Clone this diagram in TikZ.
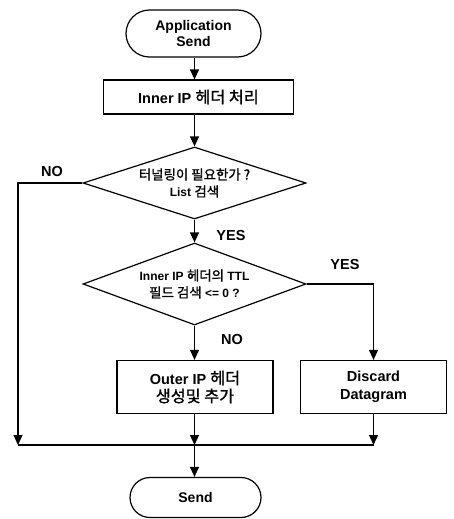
\documentclass[tikz,border=0pt]{standalone}
\usepackage{fontspec}
\setmainfont{Liberation Sans}
\newfontfamily\kr{Noto Sans CJK KR}[Scale=1.12,AutoFakeBold=1.2]
\usetikzlibrary{shapes.geometric,shapes.misc,arrows.meta}
\begin{document}
\begin{tikzpicture}[x=1pt,y=-1pt,
  line width=1.2pt,
  arr/.style={-{Triangle[width=9pt,length=10pt]}},
  term/.style={draw,rounded rectangle,font=\fontsize{14}{16}\selectfont\bfseries,align=center,inner sep=0pt},
  proc/.style={draw,rectangle,font=\fontsize{14.5}{18}\selectfont\bfseries,align=center,inner sep=0pt},
  dec/.style={draw,diamond,inner sep=0pt},
  dectext/.style={font=\fontsize{12}{17}\selectfont\bfseries,align=center,inner sep=0pt},
  lbl/.style={font=\fontsize{14.5}{16}\selectfont\bfseries,inner sep=0pt}]
\useasboundingbox (0,0) rectangle (454,519);
\node[term,minimum width=135pt,minimum height=47pt] (app) at (193.5,33.5) {Application\\Send};
\node[proc,minimum width=190pt,minimum height=34pt] (inner) at (198.5,97) {Inner IP {\kr 헤더 처리}};
\node[dec,minimum width=223pt,minimum height=72pt] (d1) at (194.5,183) {};
\node[dectext] (d1t) at (194.5,183) {{\kr 터널링이 필요한가 ?}\\List {\kr 검색}};
\node[dec,minimum width=223pt,minimum height=82pt] (d2) at (194.5,284) {};
\node[dectext] (d2t) at (194.5,284) {Inner IP {\kr 헤더의} TTL\\{\kr 필드 검색} <= 0 ?};
\node[proc,minimum width=156pt,minimum height=53pt] (outer) at (195,387) {Outer IP {\kr 헤더}\\{\kr 생성및 추가}};
\node[proc,minimum width=146pt,minimum height=53pt] (disc) at (373.5,387) {Discard\\Datagram};
\node[term,minimum width=131pt,minimum height=40pt] (send) at (195.5,497.5) {Send};
\coordinate (cl) at (18,183);
\coordinate (bl) at (18,445);
\coordinate (bm) at (194.5,445);
\coordinate (br) at (373.5,445);
\coordinate (cr) at (373.5,284);
\draw[arr] (app.south -| d1.north) -- (inner.north -| d1.north);
\draw[arr] (inner.south -| d1.north) -- (d1.north);
\draw[arr] (d1.west) -- (cl) -- (bl);
\draw[arr] (d1.south) -- (d2.north);
\draw[arr] (d2.east) -- (cr) -- (disc.north);
\draw[arr] (d2.south) -- (d2.south |- outer.north);
\draw[arr] (outer.south -| bm) -- (bm);
\draw[arr] (disc.south) -- (br);
\draw (bl) -- (br);
\draw[arr] (bm) -- (send.north -| bm);
\node[lbl] (no1) at (52,172) {NO};
\node[lbl] (yes1) at (231,236) {YES};
\node[lbl] (yes2) at (345,265) {YES};
\node[lbl] (no2) at (232,340) {NO};
\end{tikzpicture}
\end{document}
